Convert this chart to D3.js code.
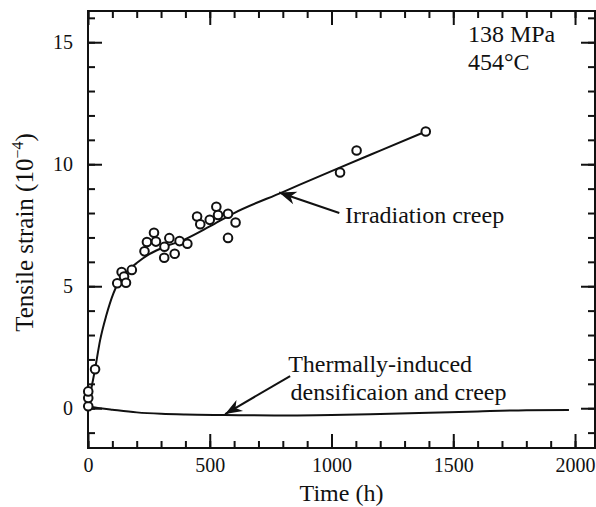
<!DOCTYPE html>
<html>
<head>
<meta charset="utf-8">
<script src="https://cdn.jsdelivr.net/npm/d3@7"></script>
<style>
  body { margin: 0; background: #fff; }
  svg { display: block; font-family: "Liberation Serif", "Times New Roman", serif; }
</style>
</head>
<body>
<svg id="chart"></svg>
<script>
// measured points (time h, strain 1e-4)
const pointTime   = [1, 1, 1, 29, 120, 138, 148, 156, 180, 232, 242, 271, 279, 314, 313, 334, 356, 376, 408, 448, 461, 500, 527, 534, 575, 575, 606, 1035, 1103, 1387];
const pointStrain = [0.08, 0.42, 0.69, 1.6, 5.12, 5.58, 5.4, 5.14, 5.67, 6.43, 6.81, 7.19, 6.83, 6.62, 6.17, 6.97, 6.33, 6.85, 6.74, 7.86, 7.54, 7.72, 8.26, 7.92, 7.97, 6.98, 7.61, 9.66, 10.56, 11.34];

// irradiation creep fit curve
const creepTime   = [0, 10, 29, 50, 75, 104, 130, 160, 200, 250, 300, 400, 500, 600, 800, 1000, 1200, 1387];
const creepStrain = [0, 0.6, 1.6, 2.8, 3.8, 4.7, 5.25, 5.6, 5.95, 6.3, 6.55, 6.93, 7.45, 8.0, 8.86, 9.72, 10.56, 11.34];

// thermally-induced densification and creep curve
const thermTime   = [0, 50, 100, 200, 300, 400, 560, 800, 1000, 1200, 1400, 1600, 1800, 1975];
const thermStrain = [0.07, 0.0, -0.06, -0.17, -0.23, -0.26, -0.28, -0.3, -0.28, -0.24, -0.19, -0.13, -0.08, -0.07];

const xMajor = [0, 500, 1000, 1500, 2000];
const xMinor = d3.range(0, 2001, 100);
const yMajor = [0, 5, 10, 15];
const yMinor = d3.range(-1, 17, 1);

const width = 596, height = 507;
const margin = { top: 11, right: 1, bottom: 59, left: 88 };
const innerWidth = width - margin.left - margin.right;
const innerHeight = height - margin.top - margin.bottom;
const ink = '#111';

const svg = d3.select('#chart')
  .attr('width', width)
  .attr('height', height)
  .attr('viewBox', `0 0 ${width} ${height}`);

const x = d3.scaleLinear().domain([0, 2082]).range([0, innerWidth]);
const y = d3.scaleLinear().domain([-1.63, 16.28]).range([innerHeight, 0]);

const g = svg.append('g').attr('transform', `translate(${margin.left}, ${margin.top})`);

// arrowhead
svg.append('defs').append('marker')
  .attr('id', 'head')
  .attr('viewBox', '-18 -7 20 14')
  .attr('refX', 0).attr('refY', 0)
  .attr('markerWidth', 20).attr('markerHeight', 14)
  .attr('markerUnits', 'userSpaceOnUse')
  .attr('orient', 'auto')
  .append('path')
  .attr('d', 'M0,0 L-17,-6.5 L-12,0 L-17,6.5 Z')
  .attr('fill', ink);

// ticks, all pointing inward
function styleAxis(sel) {
  sel.select('.domain').remove();
  sel.selectAll('line').attr('stroke', ink).attr('stroke-width', 2);
  sel.selectAll('text').filter(function () { return !this.textContent; }).remove();
  sel.selectAll('text').attr('fill', ink).attr('font-size', '20px')
    .attr('font-family', '"Liberation Serif", "Times New Roman", serif');
}

g.append('g').attr('transform', `translate(0, ${innerHeight})`)
  .call(d3.axisBottom(x).tickValues(xMinor).tickFormat('').tickSize(-7).tickSizeOuter(0)).call(styleAxis);
g.append('g').attr('transform', `translate(0, ${innerHeight})`)
  .call(d3.axisBottom(x).tickValues(xMajor).tickFormat(d3.format('d')).tickSize(-14).tickSizeOuter(0).tickPadding(10))
  .call(styleAxis)
  .selectAll('text').attr('dy', '0.71em');
g.append('g')
  .call(d3.axisTop(x).tickValues(xMinor).tickFormat('').tickSize(-7).tickSizeOuter(0)).call(styleAxis);
g.append('g')
  .call(d3.axisTop(x).tickValues(xMajor).tickFormat('').tickSize(-14).tickSizeOuter(0)).call(styleAxis);

g.append('g')
  .call(d3.axisLeft(y).tickValues(yMinor).tickFormat('').tickSize(-7).tickSizeOuter(0)).call(styleAxis);
g.append('g')
  .call(d3.axisLeft(y).tickValues(yMajor).tickFormat(d3.format('d')).tickSize(-14).tickSizeOuter(0).tickPadding(15))
  .call(styleAxis);
g.append('g').attr('transform', `translate(${innerWidth}, 0)`)
  .call(d3.axisRight(y).tickValues(yMinor).tickFormat('').tickSize(-7).tickSizeOuter(0)).call(styleAxis);
g.append('g').attr('transform', `translate(${innerWidth}, 0)`)
  .call(d3.axisRight(y).tickValues(yMajor).tickFormat('').tickSize(-14).tickSizeOuter(0)).call(styleAxis);

// frame
g.append('rect')
  .attr('width', innerWidth).attr('height', innerHeight)
  .attr('fill', 'none').attr('stroke', ink).attr('stroke-width', 2);

// curves
const line = d3.line().x(d => x(d[0])).y(d => y(d[1])).curve(d3.curveMonotoneX);

g.append('path')
  .datum(d3.zip(creepTime, creepStrain))
  .attr('d', line)
  .attr('fill', 'none').attr('stroke', ink).attr('stroke-width', 2);

g.append('path')
  .datum(d3.zip(thermTime, thermStrain))
  .attr('d', line)
  .attr('fill', 'none').attr('stroke', ink).attr('stroke-width', 2);

// measured points
g.selectAll('circle.pt')
  .data(d3.zip(pointTime, pointStrain))
  .join('circle')
  .attr('class', 'pt')
  .attr('cx', d => x(d[0]))
  .attr('cy', d => y(d[1]))
  .attr('r', 4.3)
  .attr('fill', '#fff')
  .attr('stroke', ink)
  .attr('stroke-width', 2);

// annotations
function label(tx, ty, str) {
  return g.append('text')
    .attr('x', x(tx)).attr('y', y(ty))
    .attr('font-size', '24px').attr('fill', ink)
    .text(str);
}

label(1560, 15.0, '138 MPa');
label(1560, 13.85, '454°C');

g.append('line')
  .attr('x1', x(1032)).attr('y1', y(8.0))
  .attr('x2', x(785)).attr('y2', y(8.84))
  .attr('stroke', ink).attr('stroke-width', 2)
  .attr('marker-end', 'url(#head)');
label(1055, 7.6, 'Irradiation creep');

g.append('line')
  .attr('x1', x(830)).attr('y1', y(1.32))
  .attr('x2', x(563)).attr('y2', y(-0.24))
  .attr('stroke', ink).attr('stroke-width', 2)
  .attr('marker-end', 'url(#head)');
label(822, 1.49, 'Thermally-induced');
label(832, 0.34, 'densificaion and creep');

// axis titles
svg.append('text')
  .attr('x', margin.left + innerWidth / 2)
  .attr('y', 501)
  .attr('text-anchor', 'middle')
  .attr('font-size', '24px').attr('fill', ink)
  .text('Time (h)');

const yt = svg.append('text')
  .attr('transform', `translate(33, ${margin.top + innerHeight / 2 + 3}) rotate(-90)`)
  .attr('text-anchor', 'middle')
  .attr('font-size', '25px').attr('fill', ink);
yt.append('tspan').text('Tensile strain (10');
yt.append('tspan').attr('font-size', '16px').attr('dy', '-10').text('−4');
yt.append('tspan').attr('dy', '10').text(')');
</script>
</body>
</html>
